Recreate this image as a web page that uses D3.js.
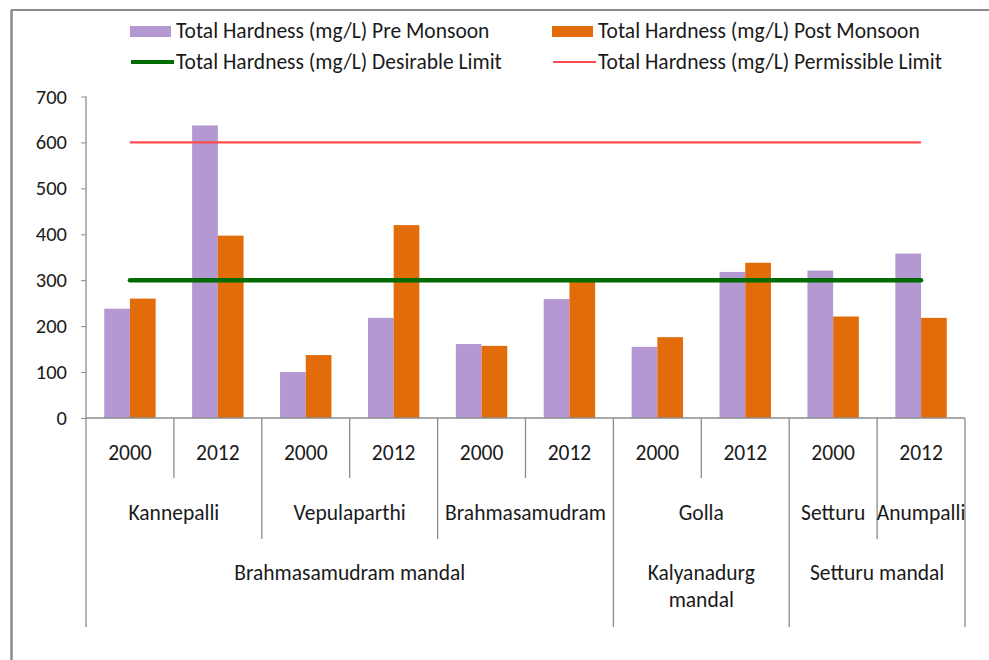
<!DOCTYPE html>
<html>
<head>
<meta charset="utf-8">
<script src="https://cdn.jsdelivr.net/npm/d3@7"></script>
<style>
  body { margin: 0; background: #fff; }
  text { font-family: Carlito, Calibri, Lato, sans-serif; fill: #1a1a1a; }
</style>
</head>
<body>
<script>
// data
var years = ["2000", "2012", "2000", "2012", "2000", "2012", "2000", "2012", "2000", "2012"];
var villages = ["Kannepalli", "Kannepalli", "Vepulaparthi", "Vepulaparthi", "Brahmasamudram", "Brahmasamudram", "Golla", "Golla", "Setturu", "Anumpalli"];
var mandals = ["Brahmasamudram mandal", "Brahmasamudram mandal", "Brahmasamudram mandal", "Brahmasamudram mandal", "Brahmasamudram mandal", "Brahmasamudram mandal", "Kalyanadurg mandal", "Kalyanadurg mandal", "Setturu mandal", "Setturu mandal"];
var preMonsoon = [238, 637, 100, 218, 161, 259, 155, 318, 321, 358];
var postMonsoon = [260, 397, 137, 420, 157, 300, 176, 338, 221, 218];
var desirableLimit = [300, 300, 300, 300, 300, 300, 300, 300, 300, 300];
var permissibleLimit = [600, 600, 600, 600, 600, 600, 600, 600, 600, 600];
var yTicks = [0, 100, 200, 300, 400, 500, 600, 700];
var seriesNames = ["Total Hardness (mg/L) Pre Monsoon", "Total Hardness (mg/L) Post Monsoon",
                   "Total Hardness (mg/L) Desirable Limit", "Total Hardness (mg/L) Permissible Limit"];

var purple = "#b498d1", orange = "#e36c0a", green = "#006b00", red = "#ff4d4d", axisGrey = "#8c8c8c";
var fontSize = 21.5;

var svg = d3.select("body").append("svg")
    .attr("width", 989)
    .attr("height", 660);

// frame around the chart (only top and left show)
svg.append("line").attr("x1", 11).attr("x2", 989).attr("y1", 10).attr("y2", 10)
    .attr("stroke", "#8a8a8a").attr("stroke-width", 2);
svg.append("line").attr("x1", 11.5).attr("x2", 11.5).attr("y1", 10).attr("y2", 660)
    .attr("stroke", "#8a8a8a").attr("stroke-width", 2.5);

// scales
var idx = d3.range(years.length);
var x = d3.scaleBand().domain(idx).range([86, 965]).padding(0);
var inner = d3.scaleBand().domain([0, 1]).range([0, x.bandwidth()]).paddingInner(0).paddingOuter(0.71);
var y = d3.scaleLinear().domain([0, 700]).range([418, 96.5]);

// y axis
var yAxis = svg.append("g")
    .attr("transform", "translate(86,0)")
    .call(d3.axisLeft(y).tickValues(yTicks).tickSize(5).tickPadding(14));
yAxis.select(".domain").remove();
yAxis.selectAll("line").attr("stroke", axisGrey);
yAxis.selectAll("text").attr("font-size", 20.5).attr("font-family", "Carlito, Calibri, Lato, sans-serif").attr("fill", "#1a1a1a");
svg.append("line").attr("x1", 86).attr("x2", 86).attr("y1", y(700)).attr("y2", 627)
    .attr("stroke", axisGrey).attr("stroke-width", 1.3);

// bars
var groups = svg.selectAll(".grp").data(idx).enter()
    .append("g")
    .attr("class", "grp")
    .attr("transform", function(d){ return "translate(" + x(d) + ",0)"; });

groups.append("rect")
    .attr("x", inner(0))
    .attr("width", inner.bandwidth())
    .attr("y", function(d){ return y(preMonsoon[d]); })
    .attr("height", function(d){ return y(0) - y(preMonsoon[d]); })
    .attr("fill", purple);

groups.append("rect")
    .attr("x", inner(1))
    .attr("width", inner.bandwidth())
    .attr("y", function(d){ return y(postMonsoon[d]); })
    .attr("height", function(d){ return y(0) - y(postMonsoon[d]); })
    .attr("fill", orange);

// x axis line
svg.append("line").attr("x1", 86).attr("x2", 965).attr("y1", 418).attr("y2", 418)
    .attr("stroke", axisGrey).attr("stroke-width", 1.3);

// limit lines
var line = d3.line()
    .x(function(d, i){ return x(i) + x.bandwidth() / 2; })
    .y(function(d){ return y(d); });

svg.append("path").datum(permissibleLimit)
    .attr("d", line).attr("fill", "none")
    .attr("stroke", red).attr("stroke-width", 2.2);

svg.append("path").datum(desirableLimit)
    .attr("d", line).attr("fill", "none")
    .attr("stroke", green).attr("stroke-width", 4.5).attr("stroke-linecap", "round");

// multi-level category labels
// helper to group consecutive equal labels into spans
function spans(labels) {
    var out = [];
    labels.forEach(function(l, i){
        if (out.length && out[out.length - 1].label == l) out[out.length - 1].end = i;
        else out.push({label: l, start: i, end: i});
    });
    return out;
}

var levelY = [453, 513, 573];
var levelBottom = [478, 539, 627];
var levels = [years.map(function(d, i){ return d + "_" + i; }), villages, mandals];

levels.forEach(function(labels, lv){
    var sp = spans(labels);
    sp.forEach(function(s){
        var x0 = x(s.start), x1 = x(s.end) + x.bandwidth();
        var txt = lv == 0 ? labels[s.start].split("_")[0] : s.label;
        var t = svg.append("text")
            .attr("x", (x0 + x1) / 2)
            .attr("y", levelY[lv])
            .attr("text-anchor", "middle")
            .attr("dominant-baseline", "central")
            .attr("font-size", fontSize);
        if (txt == "Kalyanadurg mandal") {
            t.append("tspan").attr("x", (x0 + x1) / 2).attr("dy", 0).text("Kalyanadurg");
            t.append("tspan").attr("x", (x0 + x1) / 2).attr("dy", 27).text("mandal");
        } else {
            t.text(txt);
        }
        // divider on the right edge of each span, drawn down to the deepest level it closes
        var depth = lv;
        for (var k = lv + 1; k < levels.length; k++) {
            var nextSp = spans(levels[k]);
            if (nextSp.some(function(n){ return n.end == s.end; })) depth = k;
        }
        if (depth == lv) {
            svg.append("line")
                .attr("x1", x1).attr("x2", x1)
                .attr("y1", 418).attr("y2", levelBottom[lv])
                .attr("stroke", axisGrey).attr("stroke-width", 1.3);
        }
    });
});

// legend
var legendX = [130, 552];
var legendY = [31, 62];
var legend = svg.selectAll(".legend").data(seriesNames).enter()
    .append("g")
    .attr("class", "legend")
    .attr("transform", function(d, i){ return "translate(" + legendX[i % 2] + "," + legendY[Math.floor(i / 2)] + ")"; });

legend.each(function(d, i){
    var g = d3.select(this);
    if (i < 2) {
        g.append("rect").attr("x", 0).attr("y", -5).attr("width", 41).attr("height", 11)
            .attr("fill", i == 0 ? purple : orange);
    } else {
        g.append("line").attr("x1", 1).attr("x2", 44).attr("y1", 0).attr("y2", 0)
            .attr("stroke", i == 2 ? green : red).attr("stroke-width", i == 2 ? 4 : 2.2);
    }
    g.append("text")
        .attr("x", 46)
        .attr("y", 0)
        .attr("dominant-baseline", "central")
        .attr("font-size", fontSize)
        .text(d);
});
</script>
</body>
</html>
